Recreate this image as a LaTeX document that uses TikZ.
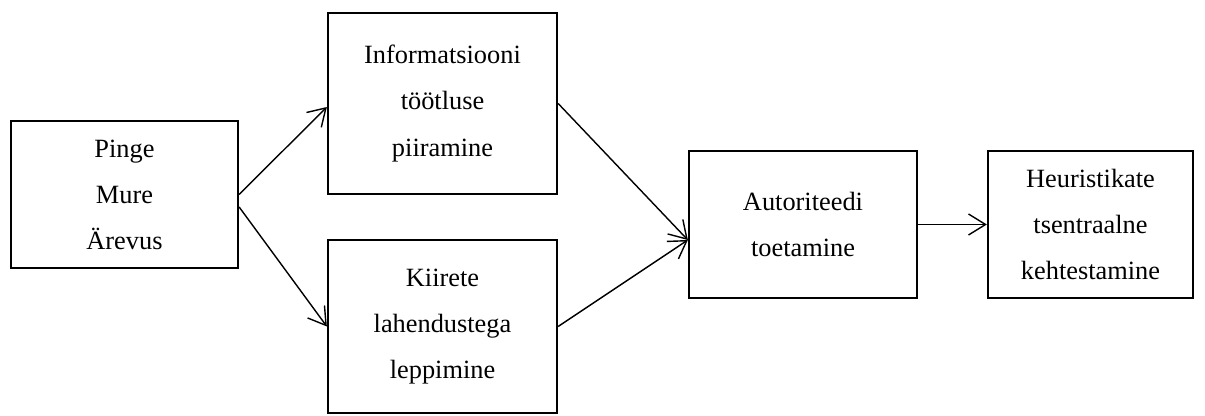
\documentclass[tikz,border=0pt]{standalone}
\usepackage{fontspec}
\setmainfont{Liberation Serif}
\usetikzlibrary{arrows.meta, positioning}

\begin{document}
\begin{tikzpicture}[
    box/.style={draw, line width=1.3pt, align=center, inner sep=0pt,
                minimum width=4.56cm, minimum height=2.94cm,
                font=\fontsize{15}{26.2}\selectfont},
    arrow/.style={-{Straight Barb[length=3.4mm, width=4.2mm]}, line width=0.8pt}
]
    \useasboundingbox (0,0) rectangle (24.1,8.32);

    \node[box, minimum width=4.54cm] (stress) at (2.49,4.43) {Pinge\\Mure\\Ärevus};
    \node[box, minimum width=4.58cm, minimum height=3.62cm] (info) at (8.85,6.25)
        {Informatsiooni\\töötluse\\piiramine};
    \node[box, minimum width=4.58cm, minimum height=3.46cm] (quick) at (8.85,1.79)
        {Kiirete\\lahendustega\\leppimine};
    \node[box] (auth) at (16.06,3.83) {Autoriteedi\\toetamine};
    \node[box, minimum width=4.10cm] (heur) at (21.81,3.83)
        {Heuristikate\\tsentraalne\\kehtestamine};

    \draw[arrow] (stress.east) -- ([yshift=-0.07cm]info.west);
    \draw[arrow] ([yshift=-0.25cm]stress.east) -- (quick.west);
    \draw[arrow] (info.east) -- ([yshift=-0.31cm]auth.west);
    \draw[arrow] (quick.east) -- ([yshift=-0.31cm]auth.west);
    \draw[arrow] (auth) -- (heur);
\end{tikzpicture}
\end{document}
